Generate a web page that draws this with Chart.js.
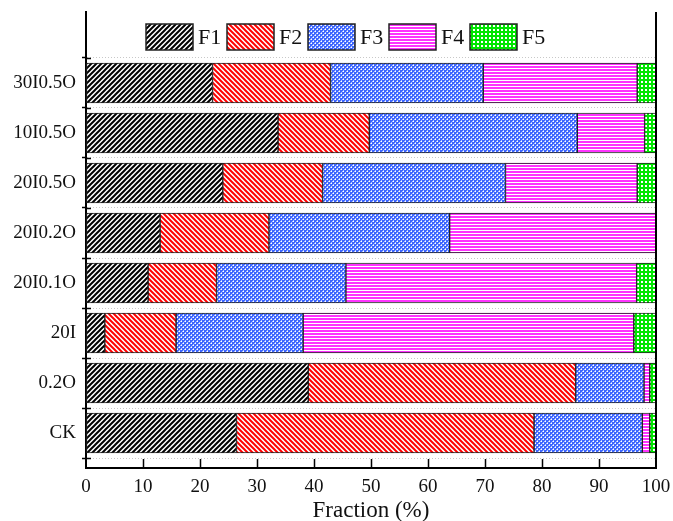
<!DOCTYPE html>
<html>
<head>
<meta charset="utf-8">
<script src="https://cdn.jsdelivr.net/npm/chart.js@4"></script>
<style>
html, body { margin: 0; padding: 0; background: #fff; }
</style>
</head>
<body>
<canvas id="chart" width="673" height="521"></canvas>
<script>
// categories from bottom to top
var categories = ['CK', '0.2O', '20I', '20I0.1O', '20I0.2O', '20I0.5O', '10I0.5O', '30I0.5O'];
var seriesNames = ['F1', 'F2', 'F3', 'F4', 'F5'];

var f1 = [26.4, 39.0, 3.3, 10.9, 13.0, 24.0, 33.7, 22.2];
var f2 = [52.2, 46.9, 12.5, 12.0, 19.1, 17.5, 16.0, 20.7];
var f3 = [19.0, 12.0, 22.3, 22.7, 31.7, 32.1, 36.5, 26.8];
var f4 = [1.3, 1.0, 58.0, 51.0, 36.2, 23.1, 11.8, 27.0];
var f5 = [1.1, 1.1, 3.9, 3.4, 0.0, 3.3, 2.0, 3.3];

var xTicks = [0, 10, 20, 30, 40, 50, 60, 70, 80, 90, 100];
// tick marks sit between the bars, labels at the bar centres
var yTicks = [-0.5, 0, 0.5, 1, 1.5, 2, 2.5, 3, 3.5, 4, 4.5, 5, 5.5, 6, 6.5, 7, 7.5];

var serif = '"Liberation Serif", "Times New Roman", serif';
var canvas = document.getElementById('chart');
var mainCtx = canvas.getContext('2d');

function tile(size, draw) {
    var c = document.createElement('canvas');
    c.width = size;
    c.height = size;
    var t = c.getContext('2d');
    t.fillStyle = '#fff';
    t.fillRect(0, 0, size, size);
    draw(t, size);
    return mainCtx.createPattern(c, 'repeat');
}

function diagonal(color, dir, width) {
    return function (t, s) {
        t.strokeStyle = color;
        t.lineWidth = width;
        t.beginPath();
        if (dir > 0) {
            t.moveTo(0, s); t.lineTo(s, 0);
            t.moveTo(-1, 1); t.lineTo(1, -1);
            t.moveTo(s - 1, s + 1); t.lineTo(s + 1, s - 1);
        } else {
            t.moveTo(0, 0); t.lineTo(s, s);
            t.moveTo(-1, s - 1); t.lineTo(1, s + 1);
            t.moveTo(s - 1, -1); t.lineTo(s + 1, 1);
        }
        t.stroke();
    };
}

var patterns = [
    tile(5, diagonal('#000', 1, 2)),
    tile(5, diagonal('#ff0000', -1, 2)),
    tile(4, function (t, s) {
        t.fillStyle = '#3d66ff';
        t.fillRect(0, 0, s, s);
        t.fillStyle = '#fff';
        t.fillRect(1, 1, 1, 1);
        t.fillRect(3, 3, 1, 1);
        t.fillStyle = 'rgba(255,255,255,0.6)';
        t.fillRect(0, 1, 1, 1);
        t.fillRect(1, 0, 1, 1);
        t.fillRect(2, 3, 1, 1);
        t.fillRect(3, 2, 1, 1);
    }),
    tile(3, function (t, s) {
        t.fillStyle = '#ff33ff';
        t.fillRect(0, 0, s, 2);
    }),
    tile(4, function (t, s) {
        t.fillStyle = '#00e600';
        t.fillRect(0, 0, s, s);
        t.fillStyle = '#fff';
        t.fillRect(1, 1, 2, 2);
    })
];

var seriesValues = [f1, f2, f3, f4, f5];

var framePlugin = {
    id: 'frame',
    afterDraw: function (chart) {
        var ctx = chart.ctx;
        var a = chart.chartArea;
        var xs = chart.scales.x;
        var ys = chart.scales.y;
        ctx.save();
        ctx.strokeStyle = '#000';
        ctx.lineWidth = 2;
        ctx.beginPath();
        ctx.moveTo(a.right, a.top);
        ctx.lineTo(a.right, a.bottom + 1);
        ctx.stroke();

        // inward tick marks
        ctx.lineWidth = 1.5;
        ctx.beginPath();
        xTicks.forEach(function (v) {
            if (v <= 0 || v >= 100) return;
            var px = Math.round(xs.getPixelForValue(v)) + 0.5;
            ctx.moveTo(px, a.bottom);
            ctx.lineTo(px, a.bottom - 9);
        });
        yTicks.forEach(function (v) {
            if (Number.isInteger(v)) return;
            var py = Math.round(ys.getPixelForValue(v)) + 0.5;
            ctx.moveTo(a.left, py);
            ctx.lineTo(a.left + 5, py);
        });
        ctx.stroke();

        // legend inside the frame
        var lx = a.left + 60;
        var ly = a.top + 12;
        ctx.font = '22px ' + serif;
        ctx.textBaseline = 'middle';
        ctx.textAlign = 'left';
        chart.data.datasets.forEach(function (ds, k) {
            var bx = lx + k * 81;
            ctx.fillStyle = ds.backgroundColor;
            ctx.fillRect(bx, ly, 47, 26);
            ctx.strokeStyle = '#222';
            ctx.lineWidth = 1.5;
            ctx.strokeRect(bx, ly, 47, 26);
            ctx.fillStyle = '#111';
            ctx.fillText(ds.label, bx + 52, ly + 14);
        });
        ctx.restore();
    }
};

new Chart(mainCtx, {
    type: 'bar',
    data: {
        datasets: seriesNames.map(function (name, k) {
            return {
                label: name,
                data: seriesValues[k].map(function (v, i) { return { x: v, y: i }; }),
                backgroundColor: patterns[k],
                borderColor: '#222',
                borderWidth: 1,
                borderSkipped: false,
                stack: 'all',
                barThickness: 40
            };
        })
    },
    options: {
        responsive: false,
        animation: false,
        indexAxis: 'y',
        layout: { padding: { top: 12, right: 17, left: 0, bottom: 0 } },
        plugins: {
            legend: { display: false },
            tooltip: { enabled: false }
        },
        scales: {
            x: {
                type: 'linear',
                min: 0,
                max: 100,
                stacked: true,
                afterBuildTicks: function (s) { s.ticks = xTicks.map(function (v) { return { value: v }; }); },
                afterFit: function (s) { s.height = 53; },
                grid: { drawOnChartArea: false, tickLength: 6, tickColor: 'rgba(0,0,0,0)' },
                border: { color: '#000', width: 2 },
                ticks: { color: '#111', font: { family: serif, size: 19 }, padding: 2, maxRotation: 0 },
                title: {
                    display: true,
                    text: 'Fraction (%)',
                    color: '#111',
                    font: { family: serif, size: 23 },
                    padding: { top: 0, bottom: -4 }
                }
            },
            y: {
                type: 'linear',
                min: -0.7,
                max: 8.42,
                offset: false,
                afterBuildTicks: function (s) { s.ticks = yTicks.map(function (v) { return { value: v }; }); },
                afterFit: function (s) { s.width = 86; s.paddingTop = 0; s.paddingBottom = 0; },
                grid: {
                    offset: false,
                    color: function (c) { return c.tick && Number.isInteger(c.tick.value) ? 'rgba(0,0,0,0)' : '#c8c8c8'; },
                    tickColor: function (c) { return c.tick && Number.isInteger(c.tick.value) ? 'rgba(0,0,0,0)' : '#000'; },
                    tickLength: 4,
                    tickWidth: 1.5,
                    lineWidth: 1
                },
                border: { color: '#000', width: 2, dash: [1, 2] },
                ticks: {
                    autoSkip: false,
                    color: '#111',
                    padding: 6,
                    font: { family: serif, size: 19 },
                    callback: function (v) { return Number.isInteger(v) ? categories[v] : ''; }
                }
            }
        }
    },
    plugins: [framePlugin]
});
</script>
</body>
</html>
